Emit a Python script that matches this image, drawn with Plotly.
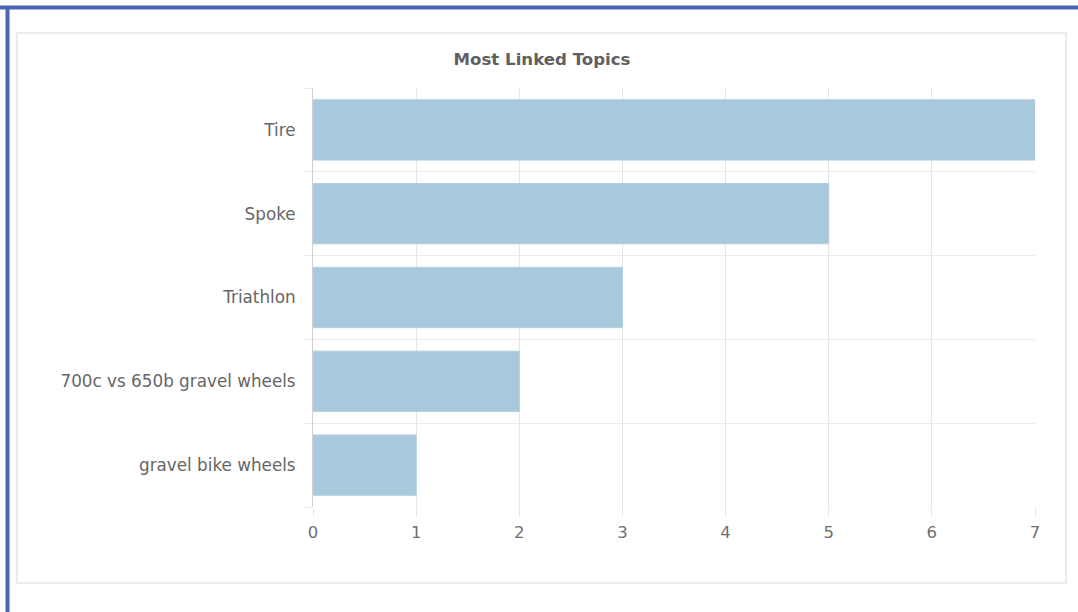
import plotly.graph_objects as go

categories = ["Tire", "Spoke", "Triathlon", "700c vs 650b gravel wheels", "gravel bike wheels"]
values = [7, 5, 3, 2, 1]
x_ticks = [0, 1, 2, 3, 4, 5, 6, 7]
title_text = "Most Linked Topics"

FONT = "DejaVu Sans, Verdana, sans-serif"

# plot area in pixels
PL, PR, PT, PB = 313, 1035, 88, 507
PW, PH = PR - PL, PB - PT
W, H = 1078, 612


def px(x):
    return (x - PL) / PW


def py(y):
    return (PB - y) / PH


fig = go.Figure(
    go.Bar(
        x=values,
        y=categories,
        orientation="h",
        marker=dict(color="#a8c8db", line=dict(color="#b4cfe0", width=1)),
        width=0.72,
        hoverinfo="x+y",
    )
)

fig.update_layout(
    width=W,
    height=H,
    paper_bgcolor="white",
    plot_bgcolor="white",
    margin=dict(l=PL, r=W - PR, t=PT, b=H - PB),
    showlegend=False,
    title=dict(
        text="<b>" + title_text + "</b>",
        x=542 / W,
        xanchor="center",
        y=1 - 59 / H,
        yanchor="middle",
        font=dict(family=FONT, size=16.6, color="#606060"),
    ),
    font=dict(family=FONT, size=16, color="#666666"),
    shapes=[
        # outer blue frame
        dict(type="line", xref="paper", yref="paper",
             x0=px(0), x1=px(W + 10), y0=py(7.5), y1=py(7.5),
             line=dict(color="#4a66b0", width=4)),
        dict(type="line", xref="paper", yref="paper",
             x0=px(7.5), x1=px(7.5), y0=py(H + 10), y1=py(6),
             line=dict(color="#4a66b0", width=4)),
        # card
        dict(type="rect", xref="paper", yref="paper",
             x0=px(17), x1=px(1066), y0=py(583), y1=py(33),
             line=dict(color="#ebebeb", width=2), layer="below"),
    ],
)

fig.update_xaxes(
    range=[0, 7],
    tickvals=x_ticks,
    showgrid=True,
    gridcolor="#e6e6e6",
    gridwidth=1,
    zeroline=False,
    showline=False,
    ticks="outside",
    ticklen=8,
    tickcolor="#e6e6e6",
    ticklabelstandoff=2,
    tickfont=dict(size=16.5, color="#707070"),
    fixedrange=True,
)

fig.update_yaxes(
    categoryorder="array",
    categoryarray=categories[::-1],
    tickson="boundaries",
    showgrid=True,
    gridcolor="#ebebeb",
    gridwidth=1,
    showline=True,
    linecolor="#cfcfcf",
    linewidth=1,
    ticks="outside",
    ticklen=8,
    tickcolor="#ebebeb",
    ticklabelstandoff=13,
    tickfont=dict(size=16.8, color="#666666"),
    fixedrange=True,
)

fig.write_html(
    "out.html",
    config={"displayModeBar": False},
    post_script="document.body.style.margin='0';document.body.style.overflow='hidden';",
)
